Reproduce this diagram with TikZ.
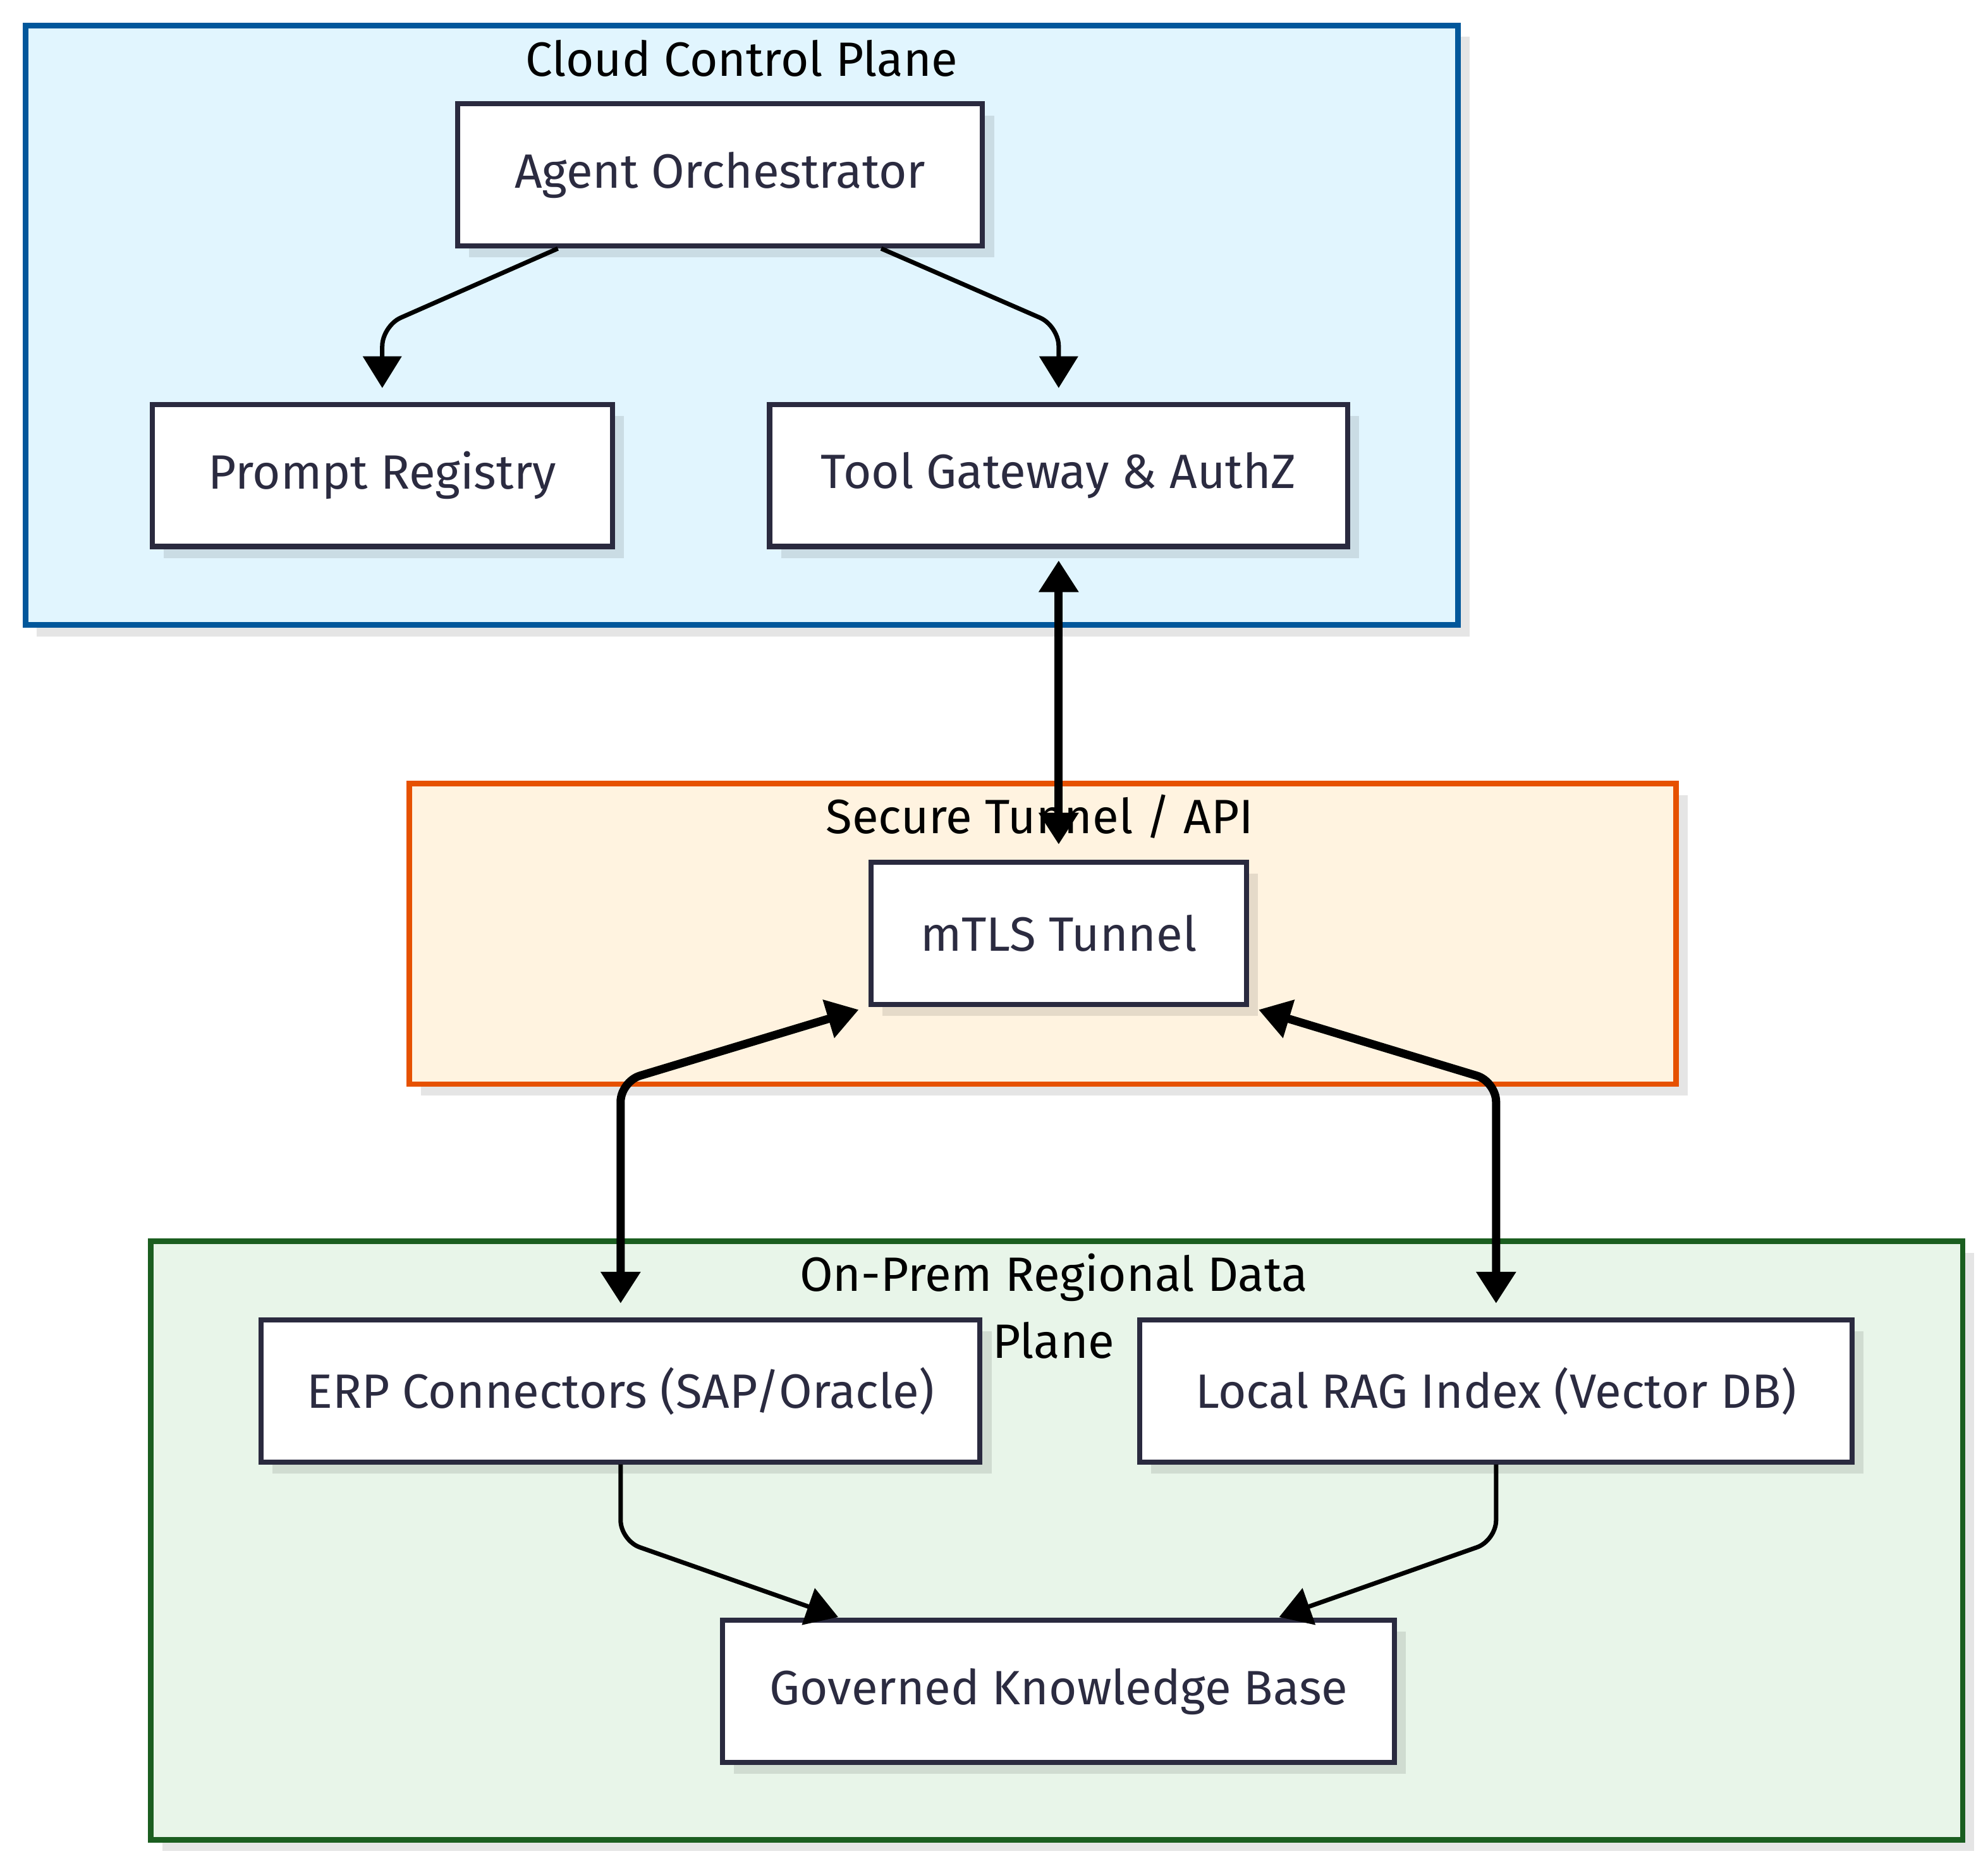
\documentclass[tikz,border=0pt]{standalone}
\usepackage{fontspec}
\setmainfont{Fira Sans}
\usepackage{xcolor}
\usepackage{tikz}
\usetikzlibrary{positioning}
\usetikzlibrary{arrows.meta}
\usetikzlibrary{shadows}

\definecolor{cloudline}{HTML}{01579B}
\definecolor{cloudfill}{HTML}{E1F5FE}
\definecolor{tunnelline}{HTML}{E65100}
\definecolor{tunnelfill}{HTML}{FFF3E0}
\definecolor{premline}{HTML}{1B5E20}
\definecolor{premfill}{HTML}{E8F5E9}
\definecolor{boxline}{HTML}{2A2A3F}
\definecolor{boxtext}{HTML}{2B2B40}

\begin{document}
\begin{tikzpicture}[x=0.5pt,y=-0.5pt,
    boxshadow/.style={drop shadow={shadow xshift=4.5pt,shadow yshift=-4.5pt,opacity=0.1,fill=black}},
    cluster/.style={line width=2.2pt,boxshadow},
    title/.style={font=\fontsize{19}{26.5}\selectfont,align=center,text=black},
    box/.style={draw=boxline,fill=white,line width=2pt,boxshadow,minimum height=56pt,
        inner sep=0pt,font=\fontsize{19}{22}\selectfont,text=boxtext},
    flow/.style={-{Triangle[length=12.5pt,width=15pt]},line width=1.75pt,rounded corners=8pt,shorten >=5.5pt},
    link/.style={{Triangle[length=12.5pt,width=15pt]}-{Triangle[length=12.5pt,width=15pt]},line width=3.25pt,rounded corners=8pt}]
    \useasboundingbox (0,0) rectangle (1568,1473);

    % planes
    \draw[cluster,draw=cloudline,fill=cloudfill] (20,20) rectangle (1150,493);
    \draw[cluster,draw=tunnelline,fill=tunnelfill] (323,618) rectangle (1322,855);
    \draw[cluster,draw=premline,fill=premfill] (119,979) rectangle (1548,1451);

    \node[title] (cloudtitle) at (585,46) {Cloud Control Plane};
    \node[title] (tunneltitle) at (820,644) {Secure Tunnel / API};
    \node[title] (premtitle) at (831,1030) {On-Prem Regional Data\\Plane};

    % services
    \node[box,minimum width=207pt] (AO) at (568,138) {Agent Orchestrator};
    \node[box,minimum width=181.5pt] (PR) at (301.5,375) {Prompt Registry};
    \node[box,minimum width=228pt] (TG) at (835,375) {Tool Gateway \& AuthZ};
    \node[box,minimum width=148pt] (mTLS) at (835,736) {mTLS Tunnel};
    \node[box,minimum width=283.5pt] (ERP) at (489.5,1097) {ERP Connectors (SAP/Oracle)};
    \node[box,minimum width=281pt] (RAG) at (1180,1097) {Local RAG Index (Vector DB)};
    \node[box,minimum width=265pt] (GKB) at (835,1334) {Governed Knowledge Base};

    % connections
    \draw[flow] ([xshift=-64pt]AO.south) -- (PR.north |- 0,257) -- (PR.north);
    \draw[flow] ([xshift=63.5pt]AO.south) -- (TG.north |- 0,257) -- (TG.north);
    \draw[link,shorten <=4.5pt,shorten >=6pt] (TG.south) -- (mTLS.north);
    \draw[link,shorten <=4pt,shorten >=5.5pt] (mTLS.south west) -- (ERP.north |- 0,853) -- (ERP.north);
    \draw[link,shorten <=4pt,shorten >=5.5pt] (mTLS.south east) -- (RAG.north |- 0,853) -- (RAG.north);
    \draw[flow,shorten >=1pt] (ERP.south) -- (ERP.south |- 0,1215) -- ([xshift=47.5pt]GKB.north west);
    \draw[flow,shorten >=1pt] (RAG.south) -- (RAG.south |- 0,1215) -- ([xshift=-47.5pt]GKB.north east);
\end{tikzpicture}
\end{document}
